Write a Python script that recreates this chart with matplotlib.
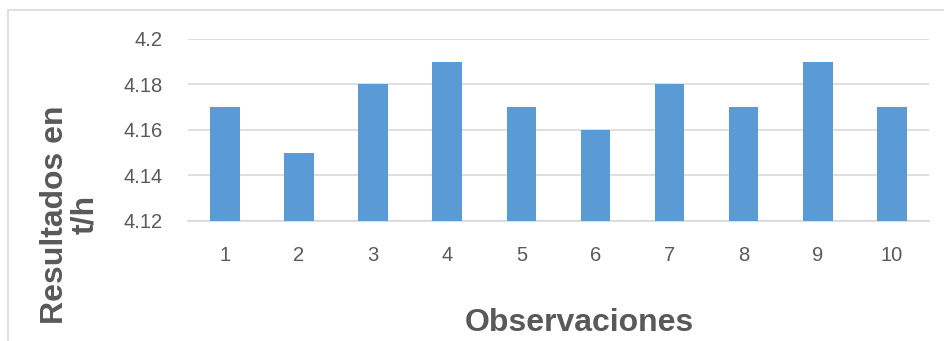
import numpy as np
import matplotlib.pyplot as plt
from matplotlib.patches import Rectangle

observaciones = ['1', '2', '3', '4', '5', '6', '7', '8', '9', '10']
resultados = [4.17, 4.15, 4.18, 4.19, 4.17, 4.16, 4.18, 4.17, 4.19, 4.17]
yticks = [4.12, 4.14, 4.16, 4.18, 4.2]
yticklabels = ['4.12', '4.14', '4.16', '4.18', '4.2']

plt.rcParams['font.family'] = ['Liberation Sans', 'DejaVu Sans']

fig = plt.figure(figsize=(9.44, 3.41), dpi=100)
ax = fig.add_axes([0.199, 0.352, 0.785, 0.534])

x = np.arange(len(observaciones))
ax.bar(x, resultados, width=0.4, color='#5B9BD5', zorder=3)

ax.set_ylim(4.12, 4.2)
ax.set_xlim(-0.5, len(observaciones) - 0.5)
ax.set_yticks(yticks)
ax.set_yticklabels(yticklabels)
ax.set_xticks(x)
ax.set_xticklabels(observaciones)
ax.grid(axis='y', color='#D9D9D9', linewidth=1.2, zorder=0)
for s in ['top', 'right', 'left']:
    ax.spines[s].set_visible(False)
ax.spines['bottom'].set_color('#D9D9D9')
ax.spines['bottom'].set_linewidth(1.2)
ax.tick_params(length=0, labelsize=14.5, labelcolor='#595959')
ax.tick_params(axis='x', pad=18)
ax.tick_params(axis='y', pad=18)

fig.text(0.074, 0.37, 'Resultados en\nt/h', rotation=90, ha='center', va='center',
         multialignment='center', fontsize=23, fontweight='bold', color='#595959',
         linespacing=1.0)
fig.text(0.614, 0.054, 'Observaciones', ha='center', va='center',
         fontsize=23, fontweight='bold', color='#595959')

# marco del gráfico
fig.patches.append(Rectangle((8 / 944, -0.1), 1.2, 1 - 10 / 341 + 0.1,
                             transform=fig.transFigure, fill=False,
                             edgecolor='#D9D9D9', linewidth=1.2))

plt.savefig('out.png', dpi=100)
